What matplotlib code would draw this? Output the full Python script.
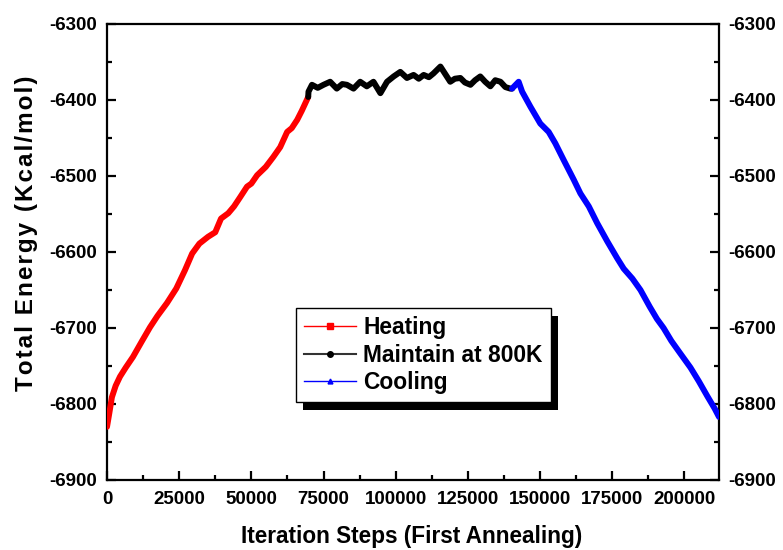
import matplotlib
matplotlib.use("Agg")
import matplotlib.pyplot as plt
from matplotlib.lines import Line2D
from matplotlib.patches import Rectangle
from matplotlib.transforms import IdentityTransform
from matplotlib.ticker import MultipleLocator

plt.rcParams['font.family'] = ['Liberation Sans', 'DejaVu Sans']
plt.rcParams['font.weight'] = 'bold'
plt.rcParams['axes.unicode_minus'] = False

# ---- data ----
heat_x = [0, 800, 1700, 3000, 4500, 6500, 9000, 12000, 14900, 17500, 20800,
          24000, 27000, 29500, 32000, 35000, 37500, 39500, 42000, 44000,
          46100, 48500, 50000, 52000, 55000, 57600, 60000, 62400, 64000,
          65900, 67500, 69700]
heat_y = [-6830, -6812, -6791, -6776, -6764, -6752, -6738, -6718, -6699,
          -6684, -6667, -6648, -6624, -6602, -6589, -6580, -6574, -6556,
          -6549, -6540, -6528, -6514, -6510, -6499, -6488, -6475, -6462,
          -6442, -6437, -6426, -6414, -6396]

hold_x = [69700, 69800, 71000, 73000, 75000, 77300, 79600, 81500, 83100,
          85400, 87700, 90000, 92300, 94700, 97000, 99300, 101600, 103900,
          106200, 108000, 109700, 111500, 113100, 115500, 118900, 120500,
          122400, 124000, 125900, 127500, 129300, 131000, 132800, 134500,
          136300, 138000, 139700, 140300]
hold_y = [-6396, -6389, -6380, -6384, -6380, -6376, -6385, -6379, -6380,
          -6385, -6376, -6382, -6376, -6391, -6376, -6369, -6363, -6371,
          -6367, -6372, -6367, -6370, -6365, -6356, -6376, -6372, -6371,
          -6377, -6380, -6374, -6369, -6376, -6382, -6374, -6376, -6383,
          -6385, -6385]

cool_x = [140300, 142600, 143800, 146700, 150100, 153000, 155300, 158200,
          161700, 164000, 166900, 169800, 173300, 176700, 179000, 182000,
          184800, 188000, 190500, 192800, 195500, 198500, 202100, 205000,
          208000, 210500, 212000]
cool_y = [-6385, -6376, -6389, -6409, -6431, -6442, -6457, -6479, -6505,
          -6523, -6540, -6562, -6586, -6608, -6622, -6635, -6650, -6672,
          -6688, -6700, -6717, -6733, -6752, -6770, -6790, -6806, -6817]

series_labels = ["Heating", "Maintain at 800K", "Cooling"]
x_label = "Iteration Steps (First Annealing)"
y_label = "\u200a".join("Total Energy (Kcal/mol)")

# ---- figure ----
fig = plt.figure(figsize=(7.83, 5.5), dpi=100)
ax = fig.add_axes([107/783, 70/550, (719-107)/783, (480-24)/550])

for xs, ys, c in [(heat_x, heat_y, '#ff0000'), (hold_x, hold_y, 'black'),
                  (cool_x, cool_y, '#0000ff')]:
    ax.plot(xs, ys, color=c, lw=4.3, solid_capstyle='round',
            solid_joinstyle='round', zorder=3)

ax.set_xlim(0, 212000)
ax.set_ylim(-6900, -6300)
ax.xaxis.set_major_locator(MultipleLocator(25000))
ax.xaxis.set_minor_locator(MultipleLocator(12500))
ax.yaxis.set_major_locator(MultipleLocator(100))
ax.yaxis.set_minor_locator(MultipleLocator(50))

for s in ax.spines.values():
    s.set_linewidth(1.6)

ax.tick_params(which='both', direction='in', width=1.6, labelsize=13.5,
               right=True, labelright=True)
ax.tick_params(which='major', length=6.5)
ax.tick_params(which='minor', length=3.3)
ax.tick_params(axis='y', pad=7)
ax.tick_params(axis='x', pad=8)
for lab in ax.get_xticklabels() + ax.get_yticklabels():
    lab.set_fontweight('bold')

ax.set_xlabel(x_label, fontsize=16.3, fontweight='bold')
ax.xaxis.set_label_coords(0.4975, -0.099)
ax.set_ylabel(y_label, fontsize=17.5, fontweight='bold')
ax.yaxis.set_label_coords(-0.113, 0.542)

handles = [
    Line2D([], [], color='#ff0000', lw=1, marker='s', markersize=4.5),
    Line2D([], [], color='#333333', lw=1.5, marker='o', markersize=4,
           markerfacecolor='black', markeredgecolor='black'),
    Line2D([], [], color='#0000ff', lw=1, marker='^', markersize=3.5),
]
leg = ax.legend(handles, series_labels, loc='upper left',
                bbox_to_anchor=(296/783, 1-308/550), bbox_transform=fig.transFigure,
                borderaxespad=0, fancybox=False, frameon=True,
                prop={'size': 16.4, 'weight': 'bold'}, handlelength=2.3,
                handletextpad=0.3, labelspacing=0.2, borderpad=0.35,
                edgecolor='black', framealpha=1)
leg.get_frame().set_linewidth(1.0)
leg.set_zorder(6)

fig.canvas.draw()
bb = leg.get_window_extent()
shadow = Rectangle((bb.x0 + 7, bb.y0 - 8), bb.width, bb.height,
                   transform=IdentityTransform(), facecolor='black',
                   edgecolor='none', zorder=5.5, clip_on=False)
ax.add_artist(shadow)

fig.savefig("out.png", dpi=100)
